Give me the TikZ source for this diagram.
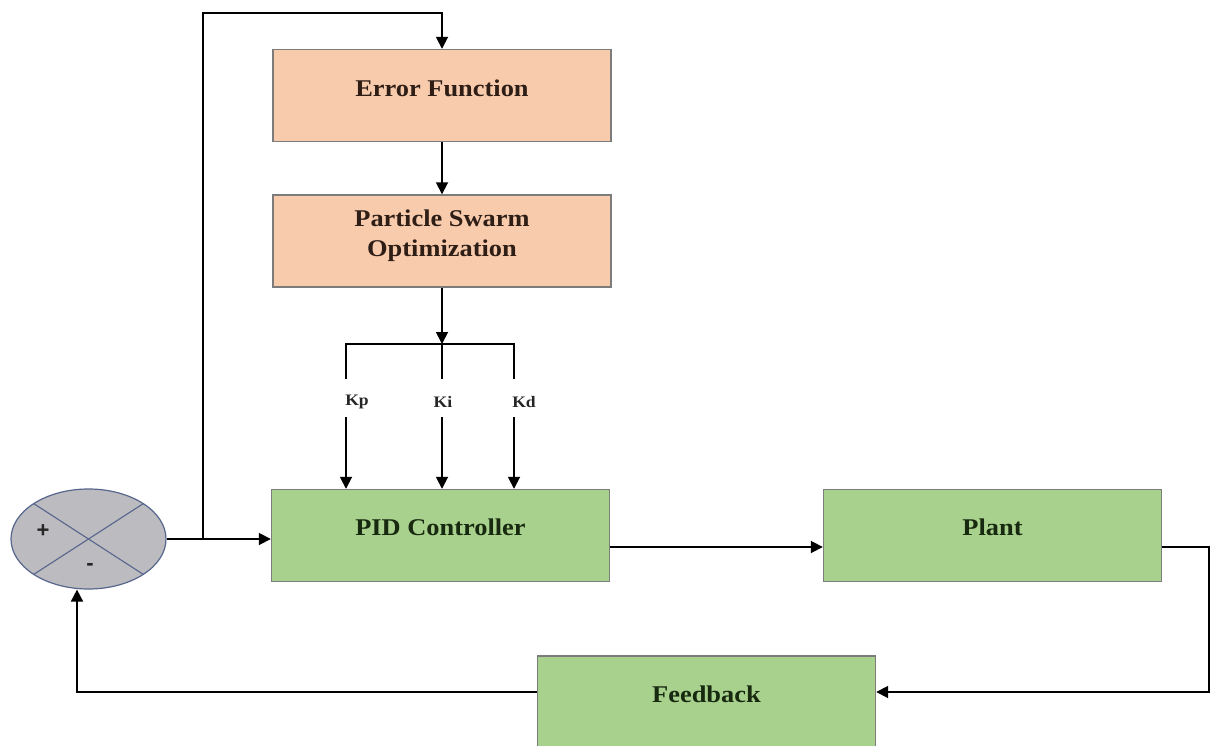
\documentclass[tikz,border=0pt]{standalone}
\usepackage{fontspec}
\setmainfont[FakeStretch=1.1]{Liberation Serif}
\newfontfamily\signfont{Liberation Sans}
\usetikzlibrary{arrows.meta,shapes.geometric,calc}
\definecolor{peach}{HTML}{F8CBAD}
\definecolor{leaf}{HTML}{A9D18E}
\definecolor{boxedge}{HTML}{7C7C7C}
\definecolor{sumfill}{HTML}{BBBBC0}
\definecolor{sumedge}{HTML}{56668C}
\definecolor{inkbrown}{HTML}{2E1E16}
\definecolor{inkgreen}{HTML}{17290F}
\tikzset{
  wire/.style={line width=1.8pt, black},
  blockbase/.style={rectangle, draw=boxedge, line width=1.4pt, inner sep=0pt,
    minimum width=338pt, minimum height=92pt},
  optbox/.style={blockbase, fill=peach},
  ctrlbox/.style={blockbase, fill=leaf},
  optlbl/.style={font=\bfseries\fontsize{24}{30}\selectfont, text=inkbrown, align=center, yshift=8pt},
  ctrllbl/.style={font=\bfseries\fontsize{24}{30}\selectfont, text=inkgreen, align=center, yshift=8pt},
  gain/.style={font=\bfseries\fontsize{16}{18}\selectfont, inner sep=0pt, text=black!85},
  signlbl/.style={font=\signfont\bfseries\fontsize{22}{24}\selectfont, inner sep=0pt, text=black!85},
}
\begin{document}
\begin{tikzpicture}[x=1pt, y=-1pt, >={Triangle[length=12pt, width=12pt]}]
\clip (0,0) rectangle (1210,746);
\fill[white] (0,0) rectangle (1210,746);

% optimisation blocks
\node[optbox, label={[optlbl, yshift=-1pt]center:Error Function}] (err) at (442,95.5) {};
\node[optbox, label={[optlbl, yshift=-3pt]center:Particle Swarm\\Optimization}] (pso) at (442,241) {};

% control loop blocks
\node[ctrlbox, label={[ctrllbl]center:PID Controller}] (pid) at (440.5,535.5) {};
\node[ctrlbox, label={[ctrllbl]center:Plant}] (plant) at (992.5,535.5) {};
\node[ctrlbox, label={[ctrllbl]center:Feedback}] (fb) at (706.5,702) {};

% summing junction
\node[ellipse, draw=sumedge, line width=1.2pt, fill=sumfill, inner sep=0pt,
      minimum width=155pt, minimum height=100pt] (sum) at (88.5,539) {};
\draw[sumedge, line width=1.1pt] ($(sum.center)+(-54.8,-35.4)$) -- ($(sum.center)+(54.8,35.4)$);
\draw[sumedge, line width=1.1pt] ($(sum.center)+(54.8,-35.4)$) -- ($(sum.center)+(-54.8,35.4)$);
\node[signlbl] (plus) at (43,531) {+};
\node[signlbl] (minus) at (90,567) {-};

% gain labels
\node[gain] (kp) at (357,402) {Kp};
\node[gain] (ki) at (443,402) {Ki};
\node[gain] (kd) at (524,402) {Kd};

% helper points
\coordinate (tap) at (203,539);
\coordinate (top) at (203,13);
\coordinate (split) at (442,344);
\coordinate (rt) at (1209,692);
\coordinate (lf) at (77,692);
\coordinate (kpA) at (346,379);
\coordinate (kiA) at (442,379);
\coordinate (kdA) at (514,379);
\coordinate (kpB) at (346,417);
\coordinate (kiB) at (442,417);
\coordinate (kdB) at (514,417);

% error path to the optimiser
\draw[wire, ->] (tap) -- (top) -| (err.north);
\draw[wire, ->] (err) -- (pso);
\draw[wire, ->] (pso.south) -- (split);

% gain distribution
\draw[wire] (kpA) |- (split) -| (kdA);
\draw[wire] (split) -- (kiA);
\draw[wire, ->] (kpB) -- (kpB |- pid.north);
\draw[wire, ->] (kiB) -- (kiB |- pid.north);
\draw[wire, ->] (kdB) -- (kdB |- pid.north);

% forward path
\draw[wire, ->] (sum.east) -- (sum.east -| pid.west);
\draw[wire, ->] ($(pid.east)+(0,11.5)$) -- ($(plant.west)+(0,11.5)$);

% feedback path
\draw[wire, ->] ($(plant.east)+(0,11.5)$) -| (rt) -- (rt -| fb.east);
\draw[wire, ->] (fb.west |- lf) -- (lf) -- (lf |- sum.south);
\end{tikzpicture}
\end{document}
